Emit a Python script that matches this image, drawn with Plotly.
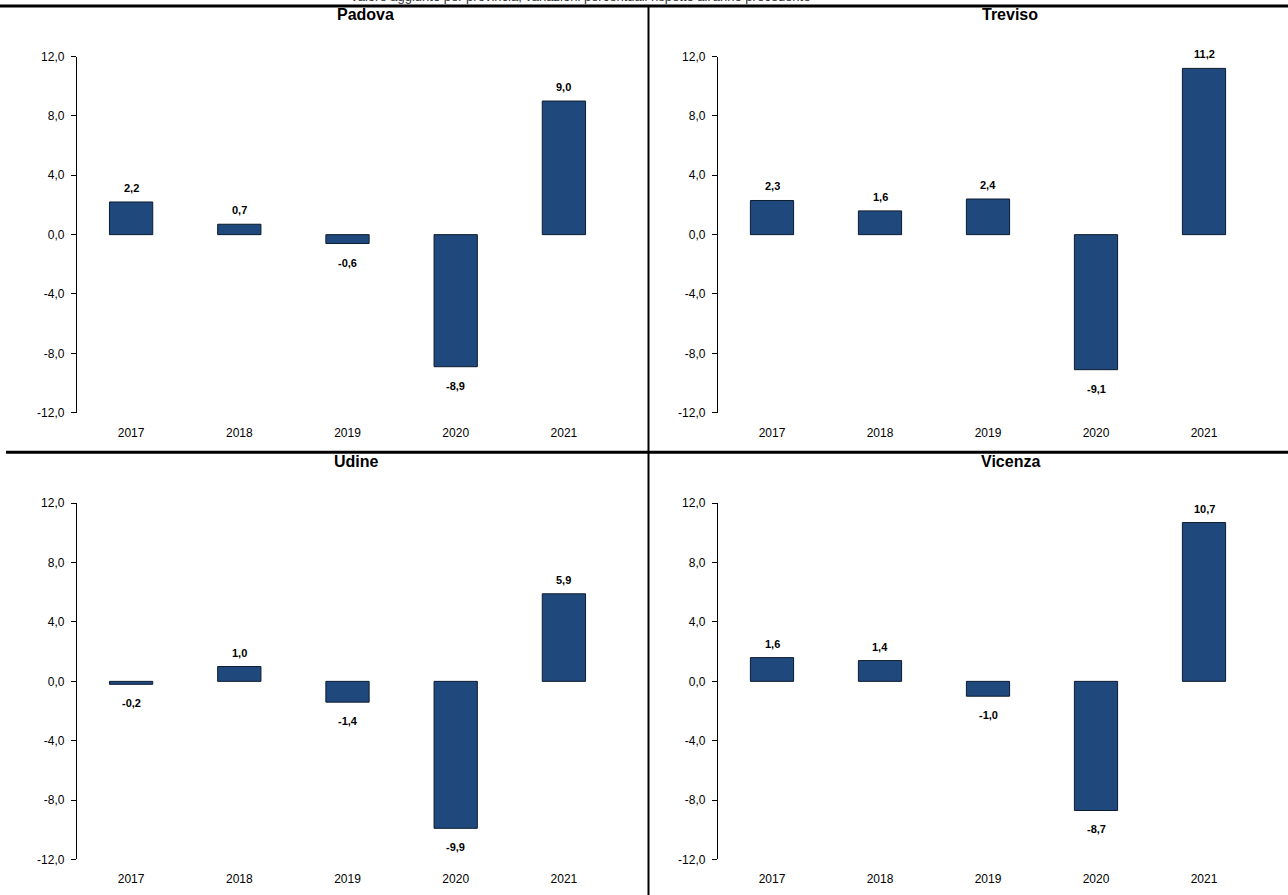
import plotly.graph_objects as go

years = ["2017", "2018", "2019", "2020", "2021"]
provinces = ["Padova", "Treviso", "Udine", "Vicenza"]
padova = [2.2, 0.7, -0.6, -8.9, 9.0]
treviso = [2.3, 1.6, 2.4, -9.1, 11.2]
udine = [-0.2, 1.0, -1.4, -9.9, 5.9]
vicenza = [1.6, 1.4, -1.0, -8.7, 10.7]
series = [padova, treviso, udine, vicenza]
y_ticks = [-12, -8, -4, 0, 4, 8, 12]

W = 1288
HF = 905       # figure height
OFF = 7.0      # observed vertical offset of the figure in the photographed page
SC = 0.984     # observed vertical scale of the figure in the photographed page
FONT = "Liberation Sans Narrow, Arial Narrow, Liberation Sans, Arial"
BAR = "#1F497D"


def py(y):
    """target picture row -> paper coordinate"""
    return 1 - ((y - OFF) / SC) / HF


def it_num(v):
    return f"{v:.1f}".replace(".", ",")


y_ticktext = [it_num(v) for v in y_ticks]

# domains (pixel positions measured on the layout)
xdoms = [(77 / W, 618 / W), (718 / W, 1258 / W)]
ydoms = [(py(412.5), py(56.5)), (py(859), py(503))]
title_x = [365, 1010, 356, 1010]
title_y = [14, 461]

fig = go.Figure()
annotations = []
layout = {}
for i, (name, vals) in enumerate(zip(provinces, series)):
    col = i % 2
    row = i // 2
    xd = xdoms[col]
    yd = ydoms[row]
    n = i + 1
    xa = "x" if n == 1 else f"x{n}"
    ya = "y" if n == 1 else f"y{n}"
    xa2n = 4 + n
    fig.add_trace(go.Bar(
        x=years, y=vals, xaxis=xa, yaxis=ya, width=0.4,
        marker=dict(color=BAR, line=dict(color="#0d1b2e", width=1)),
        showlegend=False, hoverinfo="x+y",
    ))
    ymin, ymax = -12, 12
    layout[f"xaxis{'' if n == 1 else n}"] = dict(
        domain=list(xd), anchor=ya, type="category", range=[-0.5, 4.5],
        showline=False, ticks="", showgrid=False, zeroline=False,
        tickfont=dict(family=FONT, size=12, color="black"),
        ticklabelstandoff=11,
    )
    layout[f"yaxis{'' if n == 1 else n}"] = dict(
        domain=list(yd), anchor=xa, range=[ymin, ymax],
        tickvals=y_ticks, ticktext=y_ticktext,
        showline=True, linecolor="black", linewidth=1.3,
        ticks="outside", ticklen=5, tickcolor="black", tickwidth=1,
        showgrid=False, zeroline=False,
        tickfont=dict(family=FONT, size=12, color="black"),
        ticklabelstandoff=4,
    )
    zero_pos = yd[0] + (0 - ymin) / (ymax - ymin) * (yd[1] - yd[0])
    layout[f"xaxis{xa2n}"] = dict(
        domain=list(xd), anchor="free", position=zero_pos, overlaying=xa,
        type="linear", range=[-0.5, 4.5], tickvals=[0.5, 1.5, 2.5, 3.5, 4.5],
        showticklabels=False, ticks="outside", ticklen=5, tickcolor="black",
        showline=True, linecolor="black", linewidth=1, showgrid=False,
        zeroline=False,
    )
    # panel title
    annotations.append(dict(
        text=f"<b>{name}</b>", xref="paper", yref="paper",
        x=title_x[i] / W, y=py(title_y[row]),
        showarrow=False, xanchor="center", yanchor="middle",
        font=dict(family=FONT, size=16, color="black"),
    ))
    for k, v in enumerate(vals):
        annotations.append(dict(
            text=f"<b>{it_num(v)}</b>", xref=xa, yref=ya, x=k, y=v,
            yshift=14 if v >= 0 else -19, showarrow=False,
            xanchor="center", yanchor="middle",
            font=dict(family=FONT, size=11, color="black"),
        ))

# cut-off heading at the very top
annotations.append(dict(
    text="Valore aggiunto per provincia, variazioni percentuali rispetto all'anno precedente",
    xref="paper", yref="paper", x=580 / W, y=py(-3), showarrow=False,
    xanchor="center", yanchor="middle",
    font=dict(family=FONT, size=13, color="#333333"),
))

shapes = [
    dict(type="line", xref="paper", yref="paper", x0=0, x1=1, y0=py(6), y1=py(6),
         line=dict(color="black", width=3)),
    dict(type="line", xref="paper", yref="paper", x0=6 / W, x1=1, y0=py(452), y1=py(452),
         line=dict(color="black", width=3)),
    dict(type="line", xref="paper", yref="paper", x0=648.5 / W, x1=648.5 / W, y0=0, y1=py(6),
         line=dict(color="black", width=2)),
]

fig.update_layout(
    width=W, height=HF, margin=dict(l=0, r=0, t=0, b=0),
    paper_bgcolor="white", plot_bgcolor="white",
    separators=",.", bargap=0.6,
    annotations=annotations, shapes=shapes,
    font=dict(family=FONT, color="black"),
    **layout,
)

fig.write_html(
    "out.html",
    config={"displayModeBar": False, "responsive": False},
    post_script=(
        "document.documentElement.style.margin='0';"
        "document.documentElement.style.overflow='hidden';"
        "document.body.style.margin='0';"
        "document.body.style.overflow='hidden';"
    ),
)
